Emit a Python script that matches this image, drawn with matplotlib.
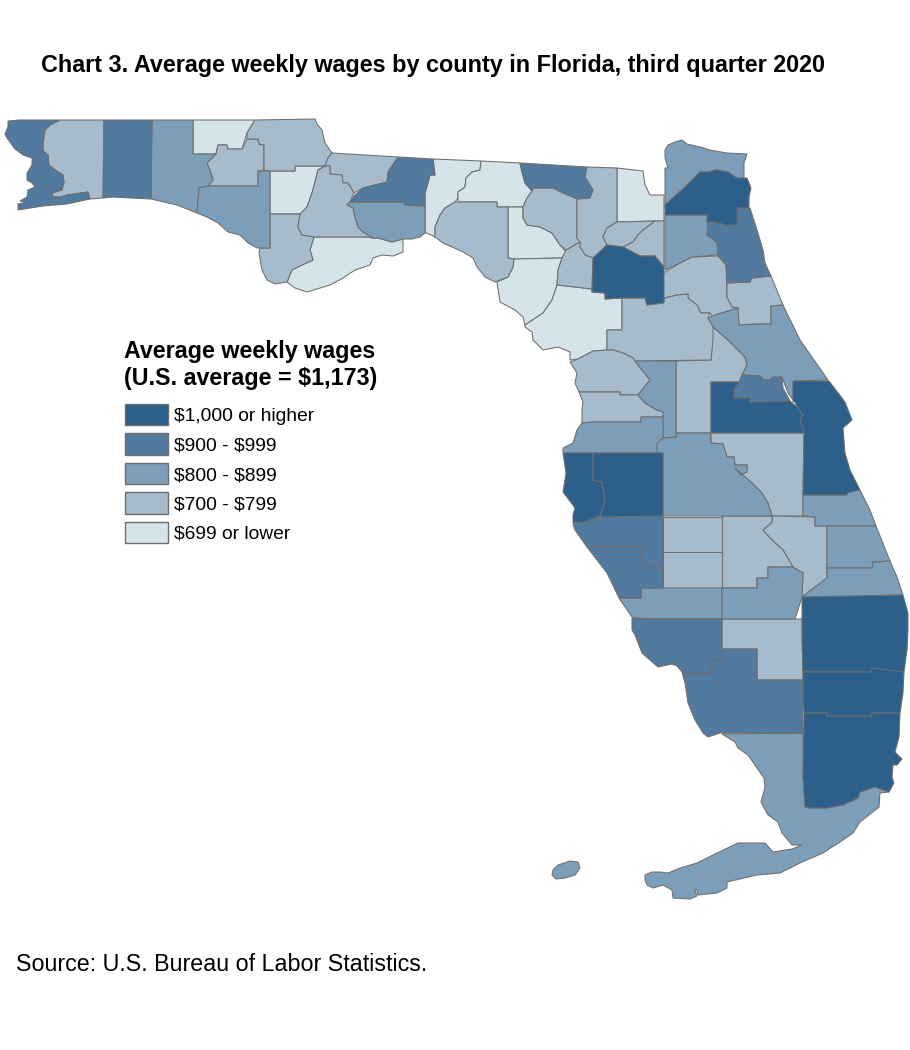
import matplotlib
matplotlib.use("Agg")
import matplotlib.pyplot as plt
from matplotlib.patches import Polygon, Rectangle

plt.rcParams["font.family"] = ["Liberation Sans", "DejaVu Sans"]
plt.rcParams["text.parse_math"] = False

TITLE = "Chart 3. Average weekly wages by county in Florida, third quarter 2020"
LEGEND_TITLE = ["Average weekly wages", "(U.S. average = $1,173)"]
SOURCE = "Source: U.S. Bureau of Labor Statistics."
BIN_LABELS = ["$1,000 or higher", "$900 - $999", "$800 - $899", "$700 - $799", "$699 or lower"]
BIN_COLORS = ["#2c608a", "#527a9e", "#7d9eb8", "#a6bccc", "#d4e4e9"]
EDGE = "#6e6e6e"

# county outlines in image pixels
ESCAMBIA = [(8,121),(20,120),(43,120),(60,120),(50,125),(45,130),(43,143),(43,151),(48,155),(49,165),(55,170),(63,175),(64,182),(62,190),(52,193),(53,197),(60,197),(67,195),(88,192),(90,199),(67,204),(43,206),(18,210),(18,204),(27,202),(20,201),(27,197),(28,190),(35,187),(32,183),(27,180),(27,173),(32,165),(32,158),(23,155),(15,149),(7,138),(5,134),(8,127)]
SANTA_ROSA = [(60,120),(104,120),(103,198),(90,199),(88,192),(67,195),(60,197),(53,197),(52,193),(62,190),(64,182),(63,175),(55,170),(49,165),(48,155),(43,151),(43,143),(45,130),(50,125)]
OKALOOSA = [(104,120),(152,120),(151,199),(130,198),(113,197),(103,198)]
WALTON = [(152,120),(193,120),(193,154),(216,154),(207,163),(211,173),(213,180),(208,186),(199,188),(197,213),(177,205),(151,199)]
HOLMES = [(193,120),(255,120),(247,133),(242,149),(228,149),(227,145),(218,145),(216,154),(193,154)]
WASHINGTON = [(218,145),(227,145),(228,149),(242,149),(247,139),(258,139),(259,144),(264,145),(264,170),(258,171),(258,186),(213,186),(208,186),(213,180),(211,173),(207,163),(216,154)]
JACKSON = [(255,120),(315,119),(317,124),(322,130),(325,143),(332,153),(328,158),(325,166),(295,166),(295,171),(270,171),(264,170),(264,145),(259,144),(258,139),(247,139),(247,133)]
BAY = [(258,171),(270,171),(270,248),(257,248),(248,243),(240,235),(228,232),(218,223),(207,217),(197,213),(199,188),(208,186),(258,186)]
CALHOUN = [(270,171),(295,171),(295,166),(325,166),(318,170),(315,182),(312,193),(307,207),(300,214),(270,214)]
GULF = [(270,214),(300,214),(298,227),(302,235),(314,237),(310,250),(313,260),(302,265),(292,270),(287,282),(275,284),(267,280),(262,270),(259,253),(260,248),(270,248)]
FRANKLIN = [(314,237),(367,237),(373,238),(378,238),(392,242),(403,239),(403,252),(393,256),(382,255),(373,258),(370,265),(355,270),(343,278),(330,285),(307,292),(295,288),(287,282),(292,270),(302,265),(313,260),(310,250)]
GADSDEN = [(332,153),(398,157),(388,172),(387,182),(363,188),(354,193),(348,183),(343,183),(342,175),(330,174),(330,166),(325,166),(328,158)]
LIBERTY = [(325,166),(330,166),(330,174),(342,175),(343,183),(348,183),(354,193),(350,202),(347,205),(353,208),(355,217),(358,227),(363,232),(373,238),(367,237),(314,237),(302,235),(298,227),(300,214),(307,207),(312,193),(315,182),(318,170)]
LEON = [(398,157),(433,159),(435,175),(430,175),(428,183),(425,193),(425,206),(405,205),(403,202),(350,202),(355,195),(363,188),(387,182),(388,172)]
WAKULLA = [(347,205),(350,202),(403,202),(405,205),(425,206),(425,233),(420,237),(412,239),(403,239),(392,242),(378,238),(373,238),(363,232),(358,227),(355,217),(353,208)]
JEFFERSON = [(433,159),(481,161),(480,170),(472,172),(466,178),(465,187),(458,192),(458,198),(455,202),(445,208),(440,215),(435,227),(435,237),(427,233),(425,233),(425,193),(428,183),(430,175),(435,175)]
MADISON = [(481,161),(520,163),(522,172),(525,183),(532,191),(527,198),(523,207),(497,207),(497,202),(458,202),(458,192),(465,187),(466,178),(472,172),(480,170)]
TAYLOR = [(445,208),(455,202),(497,202),(497,207),(508,207),(508,258),(514,259),(513,267),(508,277),(495,282),(485,277),(477,267),(473,258),(463,252),(452,247),(443,243),(435,237),(435,227),(440,215)]
LAFAYETTE = [(508,207),(523,207),(523,218),(527,225),(540,227),(552,233),(560,245),(566,252),(562,258),(514,259),(508,258)]
DIXIE = [(514,259),(562,258),(558,270),(557,285),(552,300),(543,313),(525,325),(523,317),(515,310),(500,302),(497,282),(508,277),(513,267)]
HAMILTON = [(520,163),(587,167),(585,177),(593,190),(590,198),(578,199),(563,193),(553,188),(533,188),(532,191),(525,183),(522,172)]
SUWANNEE = [(533,188),(553,188),(563,193),(577,199),(577,238),(580,242),(566,250),(560,245),(552,233),(540,227),(527,225),(523,218),(523,207),(527,198),(532,191)]
COLUMBIA = [(587,167),(617,168),(617,222),(607,228),(603,237),(607,245),(593,258),(585,255),(580,247),(580,242),(577,238),(577,199),(590,198),(593,190),(585,177)]
BAKER = [(617,168),(643,171),(645,185),(650,195),(664,195),(664,221),(655,221),(617,222)]
UNION = [(617,222),(655,221),(650,225),(643,230),(638,235),(633,242),(623,247),(607,245),(603,237),(607,228)]
BRADFORD = [(655,221),(664,221),(664,267),(658,260),(655,256),(640,256),(623,247),(633,242),(638,235),(643,230),(650,225)]
GILCHRIST = [(566,250),(580,242),(580,247),(585,255),(593,258),(592,289),(575,287),(557,285),(558,270),(562,258)]
ALACHUA = [(593,258),(607,245),(623,247),(640,256),(655,256),(664,267),(664,303),(647,305),(645,298),(622,298),(605,299),(605,293),(592,292)]
LEVY = [(557,285),(575,287),(592,289),(592,292),(605,293),(605,299),(622,298),(622,330),(607,330),(607,350),(593,351),(578,359),(570,360),(570,352),(558,347),(543,350),(533,340),(532,332),(525,327),(525,325),(543,313),(552,300)]
NASSAU = [(665,150),(668,145),(675,142),(682,140),(687,144),(700,147),(710,150),(727,153),(747,154),(744,163),(744,178),(737,178),(728,172),(717,170),(707,172),(700,172),(687,185),(665,205),(665,168),(668,168),(665,158)]
DUVAL = [(665,205),(687,185),(700,172),(707,172),(717,170),(728,172),(737,178),(747,178),(751,188),(749,197),(749,208),(737,208),(737,225),(725,225),(715,222),(707,223),(707,215),(665,215)]
ST_JOHNS = [(737,208),(750,208),(757,230),(763,250),(765,263),(771,276),(752,278),(750,282),(727,283),(726,265),(718,255),(717,242),(707,235),(708,223),(715,222),(725,225),(737,225)]
CLAY = [(665,215),(707,215),(708,223),(707,235),(717,242),(718,255),(692,257),(680,263),(665,270)]
PUTNAM = [(665,272),(680,263),(692,257),(718,256),(726,265),(727,297),(732,307),(738,308),(712,316),(710,313),(701,313),(697,305),(688,298),(688,294),(677,295),(665,298),(663,303),(663,273)]
FLAGLER = [(727,283),(750,282),(752,278),(771,276),(783,305),(771,306),(771,324),(755,324),(739,325),(738,308),(732,307),(727,297)]
VOLUSIA = [(712,316),(738,308),(739,325),(771,324),(771,306),(783,305),(800,340),(828,380),(793,381),(793,400),(788,393),(782,377),(773,377),(770,380),(763,380),(760,376),(742,375),(747,365),(745,357),(735,347),(728,340),(713,327),(708,318)]
SEMINOLE = [(742,375),(760,376),(763,380),(770,380),(773,377),(782,377),(783,388),(790,401),(750,402),(750,398),(734,398),(734,390),(739,382)]
ORANGE = [(711,382),(739,382),(734,390),(734,398),(750,398),(750,402),(790,401),(797,407),(803,415),(800,420),(804,433),(711,433)]
BREVARD = [(793,381),(829,381),(845,402),(852,420),(843,428),(845,453),(850,470),(860,490),(847,493),(847,495),(803,495),(804,433),(800,420),(803,415),(797,407),(795,402),(793,402)]
LAKE = [(676,361),(711,360),(713,323),(713,327),(728,340),(735,347),(745,357),(747,365),(742,375),(739,382),(711,382),(711,433),(676,433)]
MARION = [(607,350),(607,330),(622,330),(622,298),(645,298),(647,305),(663,303),(665,298),(677,295),(688,294),(688,298),(697,305),(701,313),(710,313),(708,318),(713,323),(713,340),(711,360),(635,361),(633,358),(623,353),(613,350)]
CITRUS = [(570,362),(578,359),(593,351),(607,350),(613,350),(623,353),(633,358),(635,361),(650,380),(638,395),(620,395),(620,392),(579,392),(575,383),(577,373)]
SUMTER = [(635,361),(676,361),(676,437),(663,438),(663,412),(657,410),(645,403),(638,395),(650,380)]
HERNANDO = [(579,392),(620,392),(620,395),(638,395),(645,403),(657,410),(663,412),(663,417),(641,417),(641,422),(592,422),(582,423),(582,410),(583,402)]
PASCO = [(582,423),(592,422),(641,422),(641,417),(663,417),(663,453),(563,453),(563,448),(573,443),(577,430)]
PINELLAS = [(563,453),(593,453),(593,480),(602,482),(605,500),(600,516),(585,522),(573,523),(573,515),(575,508),(563,492),(566,473)]
HILLSBOROUGH = [(593,453),(663,453),(663,516),(600,517),(605,500),(602,482),(593,480)]
POLK = [(663,453),(657,453),(657,443),(663,438),(676,437),(677,433),(710,433),(711,443),(723,444),(727,457),(734,457),(735,465),(747,465),(747,472),(741,475),(735,468),(752,483),(762,493),(768,503),(772,516),(663,516)]
OSCEOLA = [(711,433),(804,433),(803,495),(803,516),(772,516),(768,503),(762,493),(752,483),(741,475),(747,472),(747,465),(735,465),(734,457),(727,457),(723,444),(711,443)]
INDIAN_RIVER = [(803,495),(847,495),(847,493),(860,490),(870,510),(876,526),(815,526),(815,517),(803,516)]
ST_LUCIE = [(827,526),(876,526),(890,561),(873,562),(872,568),(827,568)]
MARTIN = [(827,568),(872,568),(873,562),(890,561),(897,577),(903,595),(802,597),(827,578)]
OKEECHOBEE = [(772,516),(815,517),(815,526),(827,526),(827,578),(802,597),(803,573),(793,567),(783,550),(770,538),(763,530),(772,522)]
HIGHLANDS = [(722,516),(772,516),(772,522),(763,530),(770,538),(783,550),(793,567),(768,567),(768,578),(757,578),(757,588),(722,588)]
HARDEE = [(663,517),(722,517),(722,552),(663,552)]
DESOTO = [(663,552),(722,552),(722,588),(663,588)]
MANATEE = [(573,524),(585,522),(600,517),(663,516),(663,567),(641,567),(641,547),(587,547),(582,540),(575,530)]
SARASOTA = [(587,547),(641,547),(641,567),(663,567),(663,588),(641,588),(641,598),(619,598),(607,573),(597,560)]
CHARLOTTE = [(619,598),(641,598),(641,588),(722,588),(722,619),(645,619),(632,617)]
GLADES = [(722,588),(757,588),(757,578),(768,578),(768,567),(792,567),(803,573),(802,597),(795,619),(737,619),(722,619)]
LEE = [(632,618),(647,619),(722,619),(722,660),(711,660),(711,673),(692,673),(682,672),(677,666),(672,664),(658,667),(650,660),(642,653),(635,635),(632,630)]
HENDRY = [(722,619),(802,619),(803,680),(757,680),(757,649),(722,649)]
COLLIER = [(722,649),(757,649),(757,680),(803,680),(803,733),(720,733),(708,737),(703,733),(695,720),(688,703),(685,683),(682,672),(692,673),(711,673),(711,660),(722,660)]
PALM_BEACH = [(802,597),(903,595),(908,613),(908,630),(907,650),(904,672),(872,670),(871,672),(803,672),(802,640)]
BROWARD = [(803,672),(871,672),(872,668),(904,672),(903,693),(900,713),(872,713),(872,716),(827,716),(827,713),(804,713),(803,693)]
MIAMI_DADE = [(804,713),(827,713),(827,716),(872,716),(872,713),(900,713),(899,737),(895,752),(902,759),(897,765),(893,765),(892,777),(894,783),(889,792),(875,787),(860,792),(858,798),(843,805),(827,808),(810,808),(805,807),(803,777)]
MONROE = [(722,734),(803,733),(803,777),(805,807),(810,808),(827,808),(843,805),(858,798),(860,792),(875,787),(889,792),(880,793),(879,807),(860,822),(853,833),(840,842),(823,853),(802,862),(780,873),(757,875),(727,882),(727,888),(717,893),(698,895),(697,890),(695,890),(697,896),(690,899),(673,898),(672,890),(663,885),(653,888),(647,885),(645,880),(645,875),(652,872),(660,872),(668,873),(680,868),(697,863),(717,853),(738,843),(765,843),(773,852),(792,849),(802,845),(792,845),(782,833),(778,822),(768,815),(761,802),(765,787),(764,778),(757,768),(748,755),(738,748),(735,742)]
MONROE_ISLAND = [(553,870),(558,865),(570,861),(578,862),(580,868),(575,875),(565,878),(556,879),(552,875)]

# one list per wage class, same order as BIN_LABELS
TOP_CLASS = [ALACHUA, DUVAL, ORANGE, BREVARD, PINELLAS, HILLSBOROUGH, PALM_BEACH, BROWARD, MIAMI_DADE]
SECOND_CLASS = [ESCAMBIA, OKALOOSA, LEON, HAMILTON, ST_JOHNS, SEMINOLE, MANATEE, SARASOTA, LEE, COLLIER]
THIRD_CLASS = [WALTON, BAY, WAKULLA, NASSAU, CLAY, VOLUSIA, SUMTER, PASCO, POLK, INDIAN_RIVER, ST_LUCIE, MARTIN, CHARLOTTE, GLADES, MONROE, MONROE_ISLAND]
FOURTH_CLASS = [SANTA_ROSA, WASHINGTON, JACKSON, GULF, GADSDEN, LIBERTY, TAYLOR, SUWANNEE, COLUMBIA, UNION, BRADFORD, GILCHRIST, PUTNAM, FLAGLER, LAKE, MARION, CITRUS, HERNANDO, OSCEOLA, OKEECHOBEE, HIGHLANDS, HARDEE, DESOTO, HENDRY]
LOW_CLASS = [HOLMES, CALHOUN, FRANKLIN, JEFFERSON, MADISON, LAFAYETTE, DIXIE, BAKER, LEVY]


def draw_map(ax):
    classes = [LOW_CLASS, FOURTH_CLASS, THIRD_CLASS, SECOND_CLASS, TOP_CLASS]
    colors = BIN_COLORS[::-1]
    for outlines, color in zip(classes, colors):
        for outline in outlines:
            ax.add_patch(Polygon(outline, closed=True, facecolor=color, edgecolor=EDGE, linewidth=0.75))


def draw_legend(ax):
    ax.text(124, 358, LEGEND_TITLE[0], fontsize=16.75, fontweight="bold", va="baseline", ha="left")
    ax.text(124, 385, LEGEND_TITLE[1], fontsize=16.75, fontweight="bold", va="baseline", ha="left")
    for i, (label, color) in enumerate(zip(BIN_LABELS, BIN_COLORS)):
        top = 403.5 + i * 29.5
        ax.add_patch(Rectangle((124.5, top), 43, 21.5, facecolor=color, edgecolor=EDGE, linewidth=1.0))
        ax.text(174, top + 17.5, label, fontsize=13.9, va="baseline", ha="left")


def main():
    fig = plt.figure(figsize=(9.1, 10.5), dpi=100)
    ax = fig.add_axes([0, 0, 1, 1])
    ax.set_xlim(0, 910)
    ax.set_ylim(1050, 0)
    ax.axis("off")

    draw_map(ax)
    draw_legend(ax)
    ax.text(41, 72, TITLE, fontsize=16.87, fontweight="bold", va="baseline", ha="left")
    ax.text(16, 971, SOURCE, fontsize=16.75, va="baseline", ha="left")

    fig.savefig("out.png", dpi=100)


if __name__ == "__main__":
    main()
